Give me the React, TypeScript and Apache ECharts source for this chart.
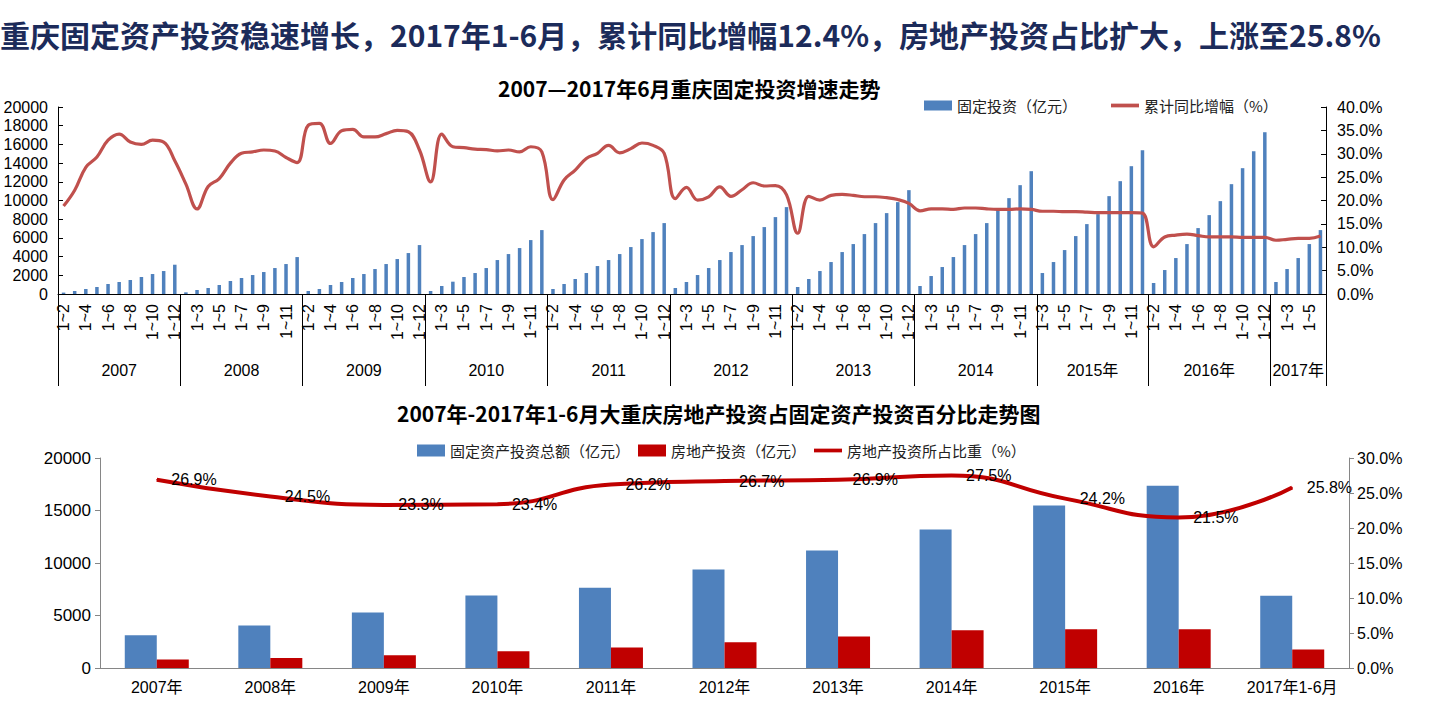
import React, { useEffect, useRef } from 'react';
import * as echarts from 'echarts';

// ---------- top chart: monthly cumulative fixed-asset investment ----------
const FULL_MONTHS = ['1~2', '1~3', '1~4', '1~5', '1~6', '1~7', '1~8', '1~9', '1~10', '1~11', '1~12'];
const MONTHS_2015 = ['1~3', '1~4', '1~5', '1~6', '1~7', '1~8', '1~9', '1~10', '1~11', '1~12'];
const MONTHS_2017 = ['1~2', '1~3', '1~4', '1~5', '1~6'];

const yearNames = ['2007', '2008', '2009', '2010', '2011', '2012', '2013', '2014', '2015年', '2016年', '2017年'];
const yearMonths = [
  FULL_MONTHS, FULL_MONTHS, FULL_MONTHS, FULL_MONTHS, FULL_MONTHS, FULL_MONTHS,
  FULL_MONTHS, FULL_MONTHS, MONTHS_2015, FULL_MONTHS, MONTHS_2017,
];

// 固定投资（亿元）
const fai2007 = [150, 320, 534, 748, 1068, 1282, 1495, 1816, 2136, 2456, 3133];
const fai2008 = [178, 427, 640, 961, 1388, 1709, 2029, 2350, 2777, 3204, 3950];
const fai2009 = [320, 534, 961, 1282, 1709, 2136, 2670, 3204, 3738, 4379, 5233];
const fai2010 = [320, 854, 1317, 1816, 2243, 2777, 3631, 4272, 4913, 5767, 6835];
const fai2011 = [534, 1068, 1602, 2243, 2990, 3631, 4272, 5020, 5874, 6622, 7583];
const fai2012 = [641, 1282, 2029, 2777, 3631, 4486, 5233, 6194, 7156, 8224, 9292];
const fai2013 = [748, 1602, 2456, 3418, 4486, 5340, 6408, 7583, 8651, 9826, 11107];
const fai2014 = [854, 1922, 2884, 3952, 5233, 6408, 7583, 9078, 10253, 11641, 13136];
const fai2015 = [2243, 3418, 4699, 6194, 7476, 8544, 10466, 12068, 13670, 15379];
const fai2016 = [1175, 2563, 3845, 5340, 7049, 8437, 9932, 11748, 13457, 15272, 17302];
const fai2017 = [1282, 2670, 3845, 5340, 6835];

// 累计同比增幅（%）
const gr2007 = [18.8, 22.2, 27.1, 29.3, 32.9, 34.2, 32.5, 32.0, 32.9, 32.5, 28.5];
const gr2008 = [23.5, 18.2, 23.0, 24.7, 28.0, 30.1, 30.4, 30.8, 30.6, 29.2, 28.1];
const gr2009 = [36.1, 36.5, 32.2, 34.9, 35.2, 33.6, 33.6, 34.3, 35.0, 34.7, 30.8];
const gr2010 = [24.0, 34.2, 31.5, 31.3, 31.0, 30.9, 30.6, 30.8, 30.4, 31.5, 30.4];
const gr2011 = [20.2, 24.4, 26.5, 29.0, 30.1, 31.8, 30.2, 31.1, 32.3, 31.8, 30.1];
const gr2012 = [20.4, 22.8, 20.1, 20.8, 22.9, 20.9, 22.3, 23.8, 23.1, 23.2, 21.2];
const gr2013 = [13.0, 20.9, 20.1, 21.1, 21.3, 21.1, 20.8, 20.8, 20.6, 20.2, 19.4];
const gr2014 = [17.8, 18.2, 18.2, 18.1, 18.4, 18.4, 18.2, 18.1, 18.1, 18.2, 18.1];
const gr2015 = [17.7, 17.7, 17.6, 17.6, 17.5, 17.4, 17.4, 17.4, 17.4, 17.3];
const gr2016 = [10.1, 12.2, 12.6, 12.8, 12.5, 12.2, 12.2, 12.2, 12.1, 12.1, 12.1];
const gr2017 = [11.5, 11.7, 11.9, 11.9, 12.4];

const faiByYear = [fai2007, fai2008, fai2009, fai2010, fai2011, fai2012, fai2013, fai2014, fai2015, fai2016, fai2017];
const grByYear = [gr2007, gr2008, gr2009, gr2010, gr2011, gr2012, gr2013, gr2014, gr2015, gr2016, gr2017];

// ---------- bottom chart: annual ----------
const annualCats = ['2007年', '2008年', '2009年', '2010年', '2011年', '2012年', '2013年', '2014年', '2015年', '2016年', '2017年1-6月'];
const annualFAI = [3120, 4050, 5290, 6900, 7650, 9370, 11190, 13200, 15470, 17360, 6890];
const realEstate = [815, 955, 1205, 1590, 1945, 2455, 2995, 3595, 3700, 3690, 1760];
const realEstateShare = [26.9, 24.5, 23.3, 23.4, 26.2, 26.7, 26.9, 27.5, 24.2, 21.5, 25.8];

const LEFT_TICKS_TOP = { min: 0, max: 20000, interval: 2000 };
const RIGHT_TICKS_TOP = { min: 0, max: 40, interval: 5 };
const LEFT_TICKS_BOT = { min: 0, max: 20000, interval: 5000 };
const RIGHT_TICKS_BOT = { min: 0, max: 30, interval: 5 };

const FONT = "'Liberation Sans', 'Noto Sans CJK SC', sans-serif";
const CJK = "'Noto Sans CJK SC', sans-serif";

const LINE_ICON = 'path://M0,0H30V4H0Z';

function buildOption() {
  const monthCats = yearMonths.flat();
  const faiAll = faiByYear.flat();
  const grAll = grByYear.flat();

  const yearStarts: number[] = [];
  let acc = 0;
  yearMonths.forEach((m) => {
    yearStarts.push(acc);
    acc += m.length;
  });
  const yearAxisData: any[] = monthCats.map(() => '');
  yearMonths.forEach((m, k) => {
    const mid = yearStarts[k] + Math.floor(m.length / 2);
    yearAxisData[mid] =
      m.length % 2 === 0
        ? { value: yearNames[k], textStyle: { padding: [0, 11, 0, 0] } }
        : yearNames[k];
  });

  const axisColor = '#000';
  const grayAxis = '#868686';
  const plain = (v: number) => String(v);
  const pct = (v: number) => v.toFixed(1) + '%';

  return {
    animation: false,
    backgroundColor: '#fff',
    title: [
      {
        text: '重庆固定资产投资稳速增长，2017年1-6月，累计同比增幅12.4%，房地产投资占比扩大，上涨至25.8%',
        left: 0,
        top: 19,
        padding: 0,
        textStyle: { fontFamily: CJK, fontSize: 30, fontWeight: 'bold', color: '#1C2B5A' },
      },
      {
        text: '2007—2017年6月重庆固定投资增速走势',
        left: 498,
        top: 77,
        padding: 0,
        textStyle: { fontFamily: CJK, fontSize: 21, fontWeight: 'bold', color: '#000' },
      },
      {
        text: '2007年-2017年1-6月大重庆房地产投资占固定资产投资百分比走势图',
        left: 397,
        top: 402,
        padding: 0,
        textStyle: { fontFamily: CJK, fontSize: 21, fontWeight: 'bold', color: '#000' },
      },
    ],
    legend: [
      {
        left: 919,
        top: 93,
        itemWidth: 28,
        itemHeight: 10,
        itemGap: 34,
        textStyle: { fontFamily: CJK, fontSize: 15, color: '#222' },
        data: [
          { name: '固定投资（亿元）', icon: 'rect' },
          { name: '累计同比增幅（%）', icon: LINE_ICON },
        ],
      },
      {
        left: 412,
        top: 438,
        itemWidth: 28,
        itemHeight: 12,
        itemGap: 8,
        textStyle: { fontFamily: CJK, fontSize: 15, color: '#222' },
        data: [
          { name: '固定资产投资总额（亿元）', icon: 'rect' },
          { name: '房地产投资（亿元）', icon: 'rect' },
          { name: '房地产投资所占比重（%）', icon: LINE_ICON },
        ],
      },
    ],
    grid: [
      { left: 58, right: 118, top: 107, bottom: 427 },
      { left: 100, right: 95, top: 458, bottom: 53 },
    ],
    xAxis: [
      {
        type: 'category',
        gridIndex: 0,
        position: 'bottom',
        data: monthCats,
        axisLine: { lineStyle: { color: axisColor, width: 1 } },
        axisTick: { interval: 0, length: 46, lineStyle: { color: axisColor } },
        axisLabel: { interval: 1, rotate: 90, margin: 10, fontFamily: FONT, fontSize: 16, color: '#000' },
        splitLine: { show: false },
      },
      {
        type: 'category',
        gridIndex: 0,
        position: 'bottom',
        data: yearAxisData,
        axisLine: { show: false },
        axisTick: {
          show: true,
          length: 92,
          interval: (idx: number) => yearStarts.indexOf(idx) >= 0,
          lineStyle: { color: axisColor },
        },
        axisLabel: { interval: 0, margin: 68, fontFamily: FONT, fontSize: 16, color: '#000' },
        splitLine: { show: false },
      },
      {
        type: 'category',
        gridIndex: 1,
        data: annualCats,
        axisLine: { lineStyle: { color: grayAxis } },
        axisTick: { length: 5, lineStyle: { color: grayAxis } },
        axisLabel: { interval: 0, margin: 11, fontFamily: FONT, fontSize: 16, color: '#000' },
      },
    ],
    yAxis: [
      {
        type: 'value',
        gridIndex: 0,
        position: 'left',
        ...LEFT_TICKS_TOP,
        axisLine: { show: true, lineStyle: { color: axisColor } },
        axisTick: { show: true, inside: true, length: 5, lineStyle: { color: axisColor } },
        axisLabel: { margin: 10, fontFamily: FONT, fontSize: 16, color: '#000', formatter: plain },
        splitLine: { show: false },
      },
      {
        type: 'value',
        gridIndex: 0,
        position: 'right',
        ...RIGHT_TICKS_TOP,
        axisLine: { show: true, lineStyle: { color: axisColor } },
        axisTick: { show: true, inside: true, length: 5, lineStyle: { color: axisColor } },
        axisLabel: { margin: 11, fontFamily: FONT, fontSize: 16, color: '#000', formatter: pct },
        splitLine: { show: false },
      },
      {
        type: 'value',
        gridIndex: 1,
        position: 'left',
        ...LEFT_TICKS_BOT,
        axisLine: { show: true, lineStyle: { color: grayAxis } },
        axisTick: { show: true, length: 5, lineStyle: { color: grayAxis } },
        axisLabel: { margin: 9, fontFamily: FONT, fontSize: 17, color: '#000', formatter: plain },
        splitLine: { show: false },
      },
      {
        type: 'value',
        gridIndex: 1,
        position: 'right',
        ...RIGHT_TICKS_BOT,
        axisLine: { show: true, lineStyle: { color: grayAxis } },
        axisTick: { show: true, length: 5, lineStyle: { color: grayAxis } },
        axisLabel: { margin: 8, fontFamily: FONT, fontSize: 16, color: '#000', formatter: pct },
        splitLine: { show: false },
      },
    ],
    series: [
      {
        name: '固定投资（亿元）',
        type: 'bar',
        xAxisIndex: 0,
        yAxisIndex: 0,
        data: faiAll,
        barWidth: 3.5,
        itemStyle: { color: '#4F81BD' },
      },
      {
        name: '累计同比增幅（%）',
        type: 'line',
        xAxisIndex: 0,
        yAxisIndex: 1,
        data: grAll,
        smooth: 0.4,
        symbol: 'none',
        lineStyle: { color: '#C0504D', width: 3.2 },
        itemStyle: { color: '#C0504D' },
        z: 3,
      },
      {
        name: '固定资产投资总额（亿元）',
        type: 'bar',
        xAxisIndex: 2,
        yAxisIndex: 2,
        data: annualFAI,
        barWidth: 32,
        barGap: '0%',
        itemStyle: { color: '#4F81BD' },
      },
      {
        name: '房地产投资（亿元）',
        type: 'bar',
        xAxisIndex: 2,
        yAxisIndex: 2,
        data: realEstate,
        barWidth: 32,
        barGap: '0%',
        itemStyle: { color: '#C00000' },
      },
      {
        name: '房地产投资所占比重（%）',
        type: 'line',
        xAxisIndex: 2,
        yAxisIndex: 3,
        data: realEstateShare,
        smooth: 0.5,
        symbol: 'circle',
        symbolSize: 1,
        lineStyle: { color: '#C00000', width: 4 },
        itemStyle: { color: '#C00000' },
        label: {
          show: true,
          position: 'right',
          distance: 14,
          formatter: '{c}%',
          fontFamily: FONT,
          fontSize: 16,
          color: '#000',
        },
        z: 3,
      },
    ],
  };
}

export default function App() {
  const ref = useRef<HTMLDivElement>(null);
  useEffect(() => {
    if (!ref.current) return;
    const chart = echarts.init(ref.current, null, { renderer: 'svg' });
    chart.setOption(buildOption() as any);
    return () => chart.dispose();
  }, []);
  return (
    <div
      ref={ref}
      style={{ position: 'fixed', left: 0, top: 0, width: 1444, height: 721, background: '#fff' }}
    />
  );
}
